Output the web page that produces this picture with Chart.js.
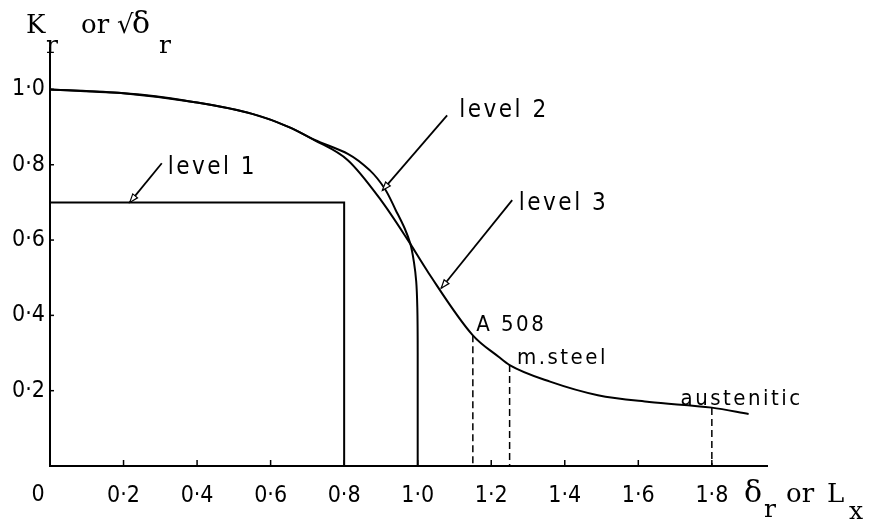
<!DOCTYPE html>
<html>
<head>
<meta charset="utf-8">
<script src="https://cdn.jsdelivr.net/npm/chart.js@4/dist/chart.umd.min.js"></script>
<style>
  html, body { margin: 0; padding: 0; background: #fff; }
  #wrap { width: 879px; height: 519px; }
</style>
</head>
<body>
<div id="wrap"><canvas id="fadChart"></canvas></div>
<script>
// Failure assessment diagram
const xTicks = [0.2, 0.4, 0.6, 0.8, 1.0, 1.2, 1.4, 1.6, 1.8];
const yTicks = [0.2, 0.4, 0.6, 0.8, 1.0];

const level1X = [0, 0.8, 0.8];
const level1Y = [0.7, 0.7, 0];

const level2X = [0, 0.2, 0.4, 0.55, 0.65, 0.72, 0.81, 0.87, 0.91, 0.94, 0.965, 0.98, 0.99, 0.996, 0.999, 1.0, 1.0];
const level2Y = [1.0, 0.99, 0.965, 0.935, 0.9, 0.866, 0.829, 0.785, 0.737, 0.68, 0.63, 0.59, 0.54, 0.49, 0.42, 0.3, 0];

const level3X = [0, 0.2, 0.4, 0.55, 0.65, 0.72, 0.81, 0.9, 0.97, 1.03, 1.15, 1.22, 1.25, 1.36, 1.49, 1.63, 1.8, 1.9];
const level3Y = [1.0, 0.99, 0.965, 0.935, 0.9, 0.865, 0.812, 0.706, 0.605, 0.512, 0.347, 0.29, 0.268, 0.224, 0.188, 0.17, 0.155, 0.138];

const materials = ['A 508', 'm.steel', 'austenitic'];
const materialX = [1.15, 1.25, 1.8];
const materialY = [0.347, 0.268, 0.154];
const materialLabelX = [1.159, 1.27, 1.715];
const materialLabelY = [0.374, 0.286, 0.178];

const levelNames = ['level 1', 'level 2', 'level 3'];
const levelLabelX = [0.32, 1.113, 1.275];
const levelLabelY = [0.793, 0.942, 0.697];
const arrowFromX = [0.304, 1.08, 1.257];
const arrowFromY = [0.804, 0.931, 0.706];
const arrowToX = [0.217, 0.904, 1.064];
const arrowToY = [0.7, 0.732, 0.472];

const toPoints = (xs, ys) => xs.map((x, i) => ({ x: x, y: ys[i] }));
const fmt = v => v.toFixed(1).replace('.', '\u00B7');

const sansFont = "'Liberation Sans Narrow', 'DejaVu Sans Condensed', 'DejaVu Sans', sans-serif";
const labelFont = "'DejaVu Sans Condensed', 'DejaVu Sans', sans-serif";
const serifFont = "'DejaVu Serif', 'Liberation Serif', serif";

const curveStyle = { showLine: true, pointRadius: 0, borderColor: '#000', borderWidth: 2, fill: false };

const datasets = [
    Object.assign({ label: 'level 1', data: toPoints(level1X, level1Y), tension: 0 }, curveStyle),
    // y falls steadily along level 2, so interpolate along y
    Object.assign({ label: 'level 2', data: toPoints(level2X, level2Y), indexAxis: 'y', cubicInterpolationMode: 'monotone' }, curveStyle),
    Object.assign({ label: 'level 3', data: toPoints(level3X, level3Y), cubicInterpolationMode: 'monotone' }, curveStyle)
];
materials.forEach((m, i) => {
    datasets.push(Object.assign({}, curveStyle, {
        label: m,
        data: [{ x: materialX[i], y: materialY[i] }, { x: materialX[i], y: 0 }],
        borderDash: [7, 4],
        borderWidth: 1.5
    }));
});

// annotations: inside tick marks, arrows, labels, axis titles
const decorations = {
    id: 'decorations',
    afterDraw(chart) {
        const ctx = chart.ctx;
        const xs = chart.scales.x, ys = chart.scales.y;
        const x0 = xs.getPixelForValue(0), y0 = ys.getPixelForValue(0);
        ctx.save();
        ctx.strokeStyle = '#000';
        ctx.fillStyle = '#000';
        ctx.lineWidth = 1.5;

        xTicks.forEach(v => {
            const px = xs.getPixelForValue(v);
            ctx.beginPath(); ctx.moveTo(px, y0); ctx.lineTo(px, y0 - 6); ctx.stroke();
        });
        yTicks.forEach(v => {
            const py = ys.getPixelForValue(v);
            ctx.beginPath(); ctx.moveTo(x0, py); ctx.lineTo(x0 + 4, py); ctx.stroke();
        });

        // arrows
        levelNames.forEach((n, i) => {
            const ax = xs.getPixelForValue(arrowFromX[i]), ay = ys.getPixelForValue(arrowFromY[i]);
            const bx = xs.getPixelForValue(arrowToX[i]), by = ys.getPixelForValue(arrowToY[i]);
            ctx.lineWidth = 1.8;
            ctx.beginPath(); ctx.moveTo(ax, ay); ctx.lineTo(bx, by); ctx.stroke();
            const ang = Math.atan2(by - ay, bx - ax);
            const len = 9, w = 0.35;
            ctx.lineWidth = 1.2;
            ctx.beginPath();
            ctx.moveTo(bx, by);
            ctx.lineTo(bx - len * Math.cos(ang - w), by - len * Math.sin(ang - w));
            ctx.lineTo(bx - len * Math.cos(ang + w), by - len * Math.sin(ang + w));
            ctx.closePath();
            ctx.fillStyle = '#fff';
            ctx.fill();
            ctx.stroke();
            ctx.fillStyle = '#000';
        });

        ctx.textBaseline = 'middle';
        ctx.textAlign = 'left';
        ctx.letterSpacing = '2.5px';
        ctx.font = '24px ' + labelFont;
        levelNames.forEach((n, i) => {
            ctx.fillText(n, xs.getPixelForValue(levelLabelX[i]), ys.getPixelForValue(levelLabelY[i]));
        });
        ctx.font = '22px ' + labelFont;
        materials.forEach((m, i) => {
            ctx.fillText(m, xs.getPixelForValue(materialLabelX[i]), ys.getPixelForValue(materialLabelY[i]));
        });
        ctx.letterSpacing = '0px';

        // origin label
        ctx.font = '23px ' + sansFont;
        ctx.textAlign = 'center';
        ctx.fillText('0', x0 - 12, y0 + 29);

        // axis titles
        ctx.textAlign = 'left';
        ctx.textBaseline = 'alphabetic';
        ctx.font = '26px ' + serifFont;
        ctx.fillText('K', 26, 33);
        ctx.fillText('or', 81, 33);
        ctx.fillText('\u221A', 117, 33);
        ctx.font = '30px ' + serifFont;
        ctx.fillText('\u03B4', 132, 33);
        ctx.font = '25px ' + serifFont;
        ctx.fillText('r', 46, 53);
        ctx.fillText('r', 159, 53);

        ctx.font = '30px ' + serifFont;
        ctx.fillText('\u03B4', 744, 502);
        ctx.font = '26px ' + serifFont;
        ctx.fillText('or', 786, 502);
        ctx.fillText('L', 827, 502);
        ctx.font = '25px ' + serifFont;
        ctx.fillText('r', 764, 517);
        ctx.fillText('x', 849, 519);
        ctx.restore();
    }
};

new Chart(document.getElementById('fadChart'), {
    type: 'scatter',
    data: { datasets: datasets },
    options: {
        responsive: true,
        maintainAspectRatio: false,
        animation: false,
        layout: { padding: { top: 48, right: 112, left: 0, bottom: 0 } },
        plugins: { legend: { display: false }, tooltip: { enabled: false } },
        scales: {
            x: {
                type: 'linear',
                min: 0,
                max: 1.95,
                afterBuildTicks: axis => { axis.ticks = xTicks.map(v => ({ value: v })); },
                afterFit: axis => { axis.height = 53; },
                grid: { drawOnChartArea: false, drawTicks: false },
                border: { color: '#000', width: 2 },
                ticks: {
                    padding: 16,
                    color: '#000',
                    font: { family: sansFont, size: 23 },
                    maxRotation: 0,
                    callback: v => fmt(v)
                }
            },
            y: {
                type: 'linear',
                min: 0,
                max: 1.11,
                afterBuildTicks: axis => { axis.ticks = yTicks.map(v => ({ value: v })); },
                afterFit: axis => { axis.width = 50; },
                grid: { drawOnChartArea: false, drawTicks: false },
                border: { color: '#000', width: 2 },
                ticks: {
                    padding: 5,
                    color: '#000',
                    font: { family: sansFont, size: 23 },
                    callback: v => fmt(v)
                }
            }
        }
    },
    plugins: [decorations]
});
</script>
</body>
</html>
